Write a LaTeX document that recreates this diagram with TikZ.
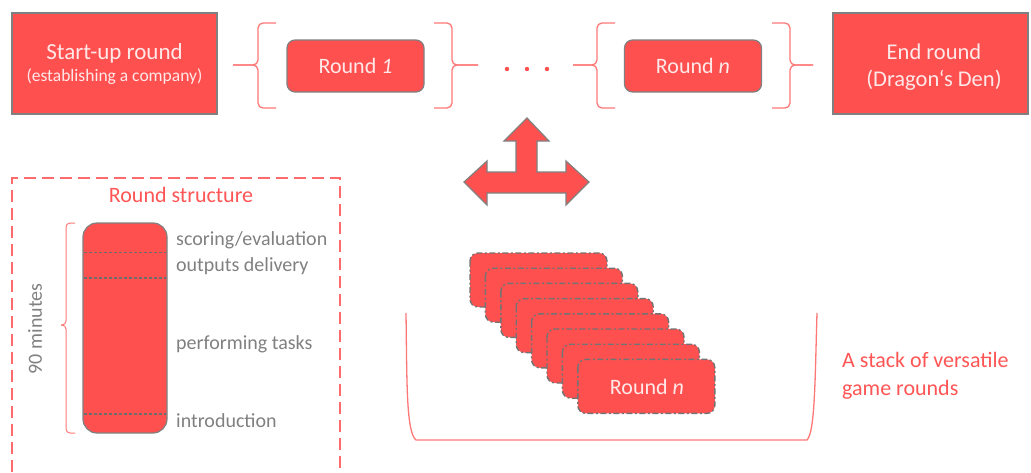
\documentclass[tikz,border=0pt]{standalone}
\usepackage{fontspec}
\setmainfont{Carlito}
\definecolor{boxred}{RGB}{255,80,80}
\definecolor{linered}{RGB}{255,120,120}
\definecolor{txtred}{RGB}{255,85,85}
\definecolor{bgray}{RGB}{128,128,128}
\definecolor{ltxt}{RGB}{255,232,232}
\tikzset{
  bigbox/.style={draw=bgray, line width=1.2pt, fill=boxred, text=ltxt, align=center, inner sep=0pt},
  rbox/.style={draw=bgray, line width=1.2pt, fill=boxred, text=ltxt, rounded corners=8pt, minimum width=137pt, minimum height=52pt, inner sep=0pt, font=\fontsize{22}{26}\selectfont},
  stackbox/.style={draw=bgray!90!black, line width=1.4pt, fill=boxred, rounded corners=8pt, dash pattern=on 6pt off 2.5pt on 2pt off 2.5pt},
  brace/.style={draw=linered, line width=1.3pt, rounded corners=5pt},
  divline/.style={draw=bgray!85!black, line width=1.2pt, dash pattern=on 3pt off 2pt},
  graytxt/.style={text=bgray, anchor=west, inner sep=0pt, font=\fontsize{20}{24}\selectfont},
  redtxt/.style={text=txtred, inner sep=0pt, font=\fontsize{22}{26}\selectfont},
}
\begin{document}
\begin{tikzpicture}[x=1pt,y=-1pt]
\useasboundingbox (0,0) rectangle (1031,472);
% top row
\node[bigbox, minimum width=205pt, minimum height=101pt] (start) at (114.5,63.5) {};
\node[text=ltxt, inner sep=0pt, font=\fontsize{23}{26}\selectfont] (startA) at (114.5,53) {Start-up round};
\node[text=ltxt, inner sep=0pt, font=\fontsize{17.5}{20}\selectfont] (startB) at (114.5,77) {(establishing a company)};
\node[rbox] (r1) at (355.5,66) {Round \textit{1}};
\node[rbox] (rn) at (693,66) {Round \textit{n}};
\node[bigbox, minimum width=195pt, minimum height=101pt] (end) at (930.5,63.5) {};
\node[text=ltxt, inner sep=0pt, font=\fontsize{22.5}{26}\selectfont] (endA) at (934,52) {End round};
\node[text=ltxt, inner sep=0pt, font=\fontsize{22.5}{26}\selectfont] (endB) at (934,80) {(Dragon‘s Den)};
% braces
\draw[brace] (276,23) -- (258,23) -- (258,65) -- (233,65);
\draw[brace] (276,108) -- (258,108) -- (258,65) -- (233,65);
\draw[brace] (434,23) -- (452,23) -- (452,65) -- (478,65);
\draw[brace] (434,108) -- (452,108) -- (452,65) -- (478,65);
\draw[brace] (615,23) -- (597,23) -- (597,65) -- (573,65);
\draw[brace] (615,108) -- (597,108) -- (597,65) -- (573,65);
\draw[brace] (772,23) -- (790,23) -- (790,65) -- (813,65);
\draw[brace] (772,108) -- (790,108) -- (790,65) -- (813,65);
% dots
\foreach \i/\xx in {1/507,2/527,3/547}{
  \fill[boxred] (\xx,69) circle (2.2pt) coordinate (dot\i);
}
% T arrow
\draw[draw=bgray, line width=1.2pt, fill=boxred] (527,118) -- (549,141) -- (537,141) -- (537,172) -- (566,172) -- (566,161) -- (589,182) -- (566,205) -- (566,193) -- (487,193) -- (487,205) -- (464,182) -- (487,161) -- (487,172) -- (516,172) -- (516,141) -- (504,141) -- cycle;
% round structure box
\draw[draw=boxred!85!white, line width=2pt, dash pattern=on 12pt off 6pt] (12,490) -- (12,178) -- (340,178) -- (340,490);
\node[redtxt] (rs) at (181,195) {Round structure};
\node[draw=bgray, line width=1.2pt, fill=boxred, rounded corners=14pt, minimum width=84pt, minimum height=210pt, inner sep=0pt] (tall) at (125,328) {};
\coordinate (d1a) at (84,252.5); \coordinate (d1b) at (166,252.5);
\coordinate (d2a) at (84,278); \coordinate (d2b) at (166,278);
\coordinate (d3a) at (84,414); \coordinate (d3b) at (166,414);
\draw[divline] (d1a) -- (d1b);
\draw[divline] (d2a) -- (d2b);
\draw[divline] (d3a) -- (d3b);
\draw[brace, line width=1pt, rounded corners=4pt] (75,223) -- (66,223) -- (66,325) -- (61,325);
\draw[brace, line width=1pt, rounded corners=4pt] (75,433) -- (66,433) -- (66,325) -- (61,325);
\node[text=bgray, rotate=90, inner sep=0pt, font=\fontsize{20}{24}\selectfont] (mins) at (35,329) {90 minutes};
\node[graytxt] (l1) at (176,240) {scoring/evaluation};
\node[graytxt] (l2) at (176,266) {outputs delivery};
\node[graytxt] (l3) at (176,344) {performing tasks};
\node[graytxt] (l4) at (176,421) {introduction};
% bucket
\draw[draw=linered, line width=1.3pt] (406,313) .. controls (407,380) and (406,432) .. (416,440) -- (807,440) .. controls (815,432) and (815,380) .. (817,313);
% stack
\foreach \i in {0,...,7}{
  \path[stackbox] ({470+15.4*\i},{253+15.2*\i}) rectangle ++(137,54);
}
\node[text=ltxt, inner sep=0pt, font=\fontsize{22}{26}\selectfont] (stackn) at (647,387) {Round \textit{n}};
\node[redtxt, anchor=north west, align=left, font=\fontsize{22}{28}\selectfont] (stk) at (842,352) {A stack of versatile\\game rounds};
\end{tikzpicture}
\end{document}
